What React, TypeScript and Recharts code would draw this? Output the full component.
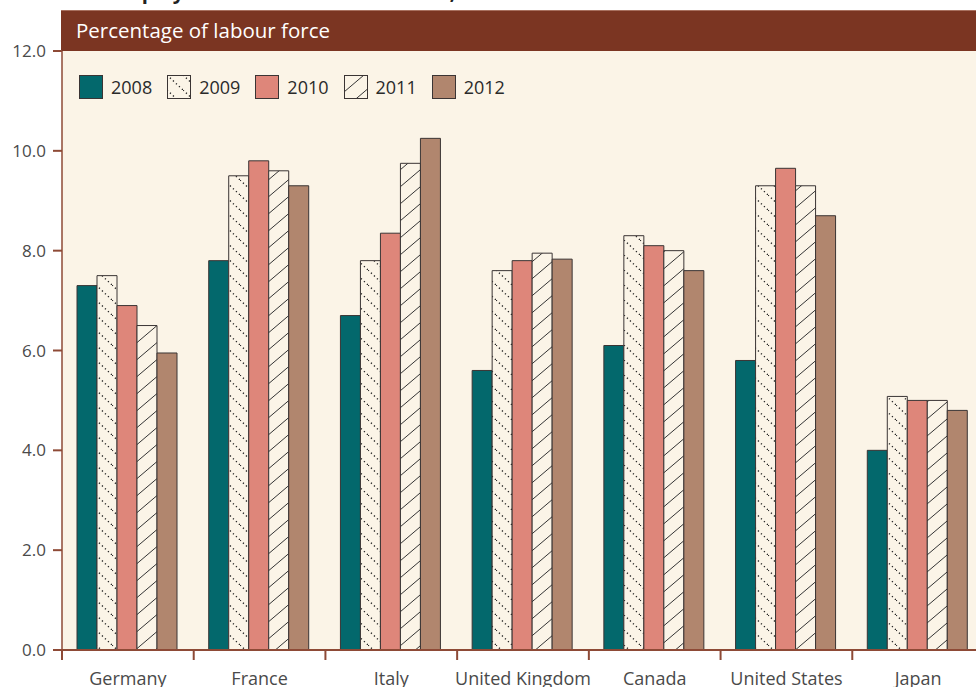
import { Bar, BarChart, CartesianGrid, XAxis, YAxis } from 'recharts'

const COUNTRIES = ['Germany', 'France', 'Italy', 'United Kingdom', 'Canada', 'United States', 'Japan']
const YEARS = ['2008', '2009', '2010', '2011', '2012']

const Y2008 = [7.3, 7.8, 6.7, 5.6, 6.1, 5.8, 4.0]
const Y2009 = [7.5, 9.5, 7.8, 7.6, 8.3, 9.3, 5.08]
const Y2010 = [6.9, 9.8, 8.35, 7.8, 8.1, 9.65, 5.0]
const Y2011 = [6.5, 9.6, 9.75, 7.95, 8.0, 9.3, 5.0]
const Y2012 = [5.95, 9.3, 10.25, 7.83, 7.6, 8.7, 4.8]

const Y_TICKS = [0, 2, 4, 6, 8, 10, 12]

const SERIES = [Y2008, Y2009, Y2010, Y2011, Y2012]

const data = COUNTRIES.map((c, i) => {
  const row: Record<string, string | number> = { country: c }
  YEARS.forEach((y, j) => (row[y] = SERIES[j][i]))
  return row
})

const CREAM = '#fbf4e7'
const HEADER = '#7b3522'
const AXIS = '#8e4a36'
const EDGE = '#3a3434'
const FONT = '"Open Sans", sans-serif'

const FILLS: Record<string, string> = {
  '2008': '#03686c',
  '2009': 'url(#dots)',
  '2010': '#de867a',
  '2011': 'url(#hatch)',
  '2012': '#b1866e',
}

const CHART_W = 1000
const MARGIN = { top: 51, right: 16, bottom: 0, left: 0 }
const Y_AXIS_W = 62
const BAND = (CHART_W - MARGIN.right - MARGIN.left - Y_AXIS_W) / COUNTRIES.length

function Patterns({ prefix = '' }: { prefix?: string }) {
  return (
    <defs>
      <pattern id={prefix + 'dots'} patternUnits="userSpaceOnUse" width="16" height="15">
        <rect width="16" height="15" fill={CREAM} />
        <path d="M0,0 L16,15" stroke="#222" strokeWidth="1.4" strokeDasharray="1.2 2.9" />
      </pattern>
      <pattern id={prefix + 'hatch'} patternUnits="userSpaceOnUse" width="20" height="17">
        <rect width="20" height="17" fill={CREAM} />
        <path d="M0,17 L20,0 M-2,1.7 L2,-1.7 M18,18.7 L22,15.3" stroke="#333" strokeWidth="1" />
      </pattern>
    </defs>
  )
}

function CountryTick(props: any) {
  const { x, y, payload } = props
  const edge = x - BAND / 2
  return (
    <g>
      <line x1={edge} x2={edge} y1={y - 22} y2={y - 12} stroke={AXIS} strokeWidth={2} />
      <text x={x} y={y} dy="0.71em" textAnchor="middle" fontSize={18} fill="#4a4a4a" fontFamily={FONT}>
        {payload.value}
      </text>
    </g>
  )
}

function YearLegend() {
  return (
    <div
      style={{
        position: 'absolute',
        left: 79,
        top: 75,
        display: 'flex',
        alignItems: 'center',
        fontFamily: FONT,
        fontSize: 18,
        color: '#2a2a2a',
      }}
    >
      {YEARS.map((y) => (
        <div key={y} style={{ display: 'flex', alignItems: 'center', marginRight: 15 }}>
          <svg width={24} height={24} style={{ display: 'block' }}>
            <Patterns prefix="lg-" />
            <rect
              x={0.5}
              y={0.5}
              width={23}
              height={23}
              fill={FILLS[y].replace('url(#', 'url(#lg-')}
              stroke={EDGE}
              strokeWidth={1}
            />
          </svg>
          <span style={{ marginLeft: 8 }}>{y}</span>
        </div>
      ))}
    </div>
  )
}

export default function App() {
  return (
    <div
      style={{
        position: 'fixed',
        left: 0,
        top: 0,
        width: 976,
        height: 687,
        overflow: 'hidden',
        background: '#fff',
      }}
    >
      <div
        style={{
          position: 'absolute',
          left: 82,
          top: -18,
          whiteSpace: 'nowrap',
          fontFamily: FONT,
          fontWeight: 700,
          fontSize: 20,
          lineHeight: '20px',
          color: '#222',
        }}
      >
        Unemployment rates in G7 countries, 2008–2012
      </div>
      <div
        style={{
          position: 'absolute',
          left: 61,
          top: 10,
          width: 915,
          height: 41,
          background: HEADER,
          borderTop: '1px solid #a8705f',
          boxSizing: 'border-box',
          color: '#fff',
          fontFamily: FONT,
          fontSize: 20.5,
          lineHeight: '39px',
          paddingLeft: 15,
        }}
      >
        Percentage of labour force
      </div>
      <div style={{ position: 'absolute', left: 0, top: 0 }}>
        <BarChart
          width={CHART_W}
          height={687}
          data={data}
          margin={MARGIN}
          barCategoryGap={15}
          barGap={0}
        >
          <Patterns />
          <CartesianGrid horizontal={false} vertical={false} fill={CREAM} />
          <XAxis
            dataKey="country"
            height={37}
            interval={0}
            tickLine={false}
            tickSize={10}
            tickMargin={12}
            axisLine={{ stroke: AXIS, strokeWidth: 2 }}
            tick={<CountryTick />}
          />
          <YAxis
            width={Y_AXIS_W}
            domain={[0, 12]}
            ticks={Y_TICKS}
            interval={0}
            tickFormatter={(v: number) => v.toFixed(1)}
            tickSize={9}
            tickMargin={7}
            tick={{ fontSize: 17, fill: '#4a4a4a', fontFamily: FONT }}
            tickLine={{ stroke: AXIS, strokeWidth: 2 }}
            axisLine={{ stroke: AXIS, strokeWidth: 1.5 }}
          />
          {YEARS.map((y) => (
            <Bar
              key={y}
              dataKey={y}
              fill={FILLS[y]}
              stroke={EDGE}
              strokeWidth={1}
              isAnimationActive={false}
            />
          ))}
        </BarChart>
      </div>
      <YearLegend />
    </div>
  )
}
